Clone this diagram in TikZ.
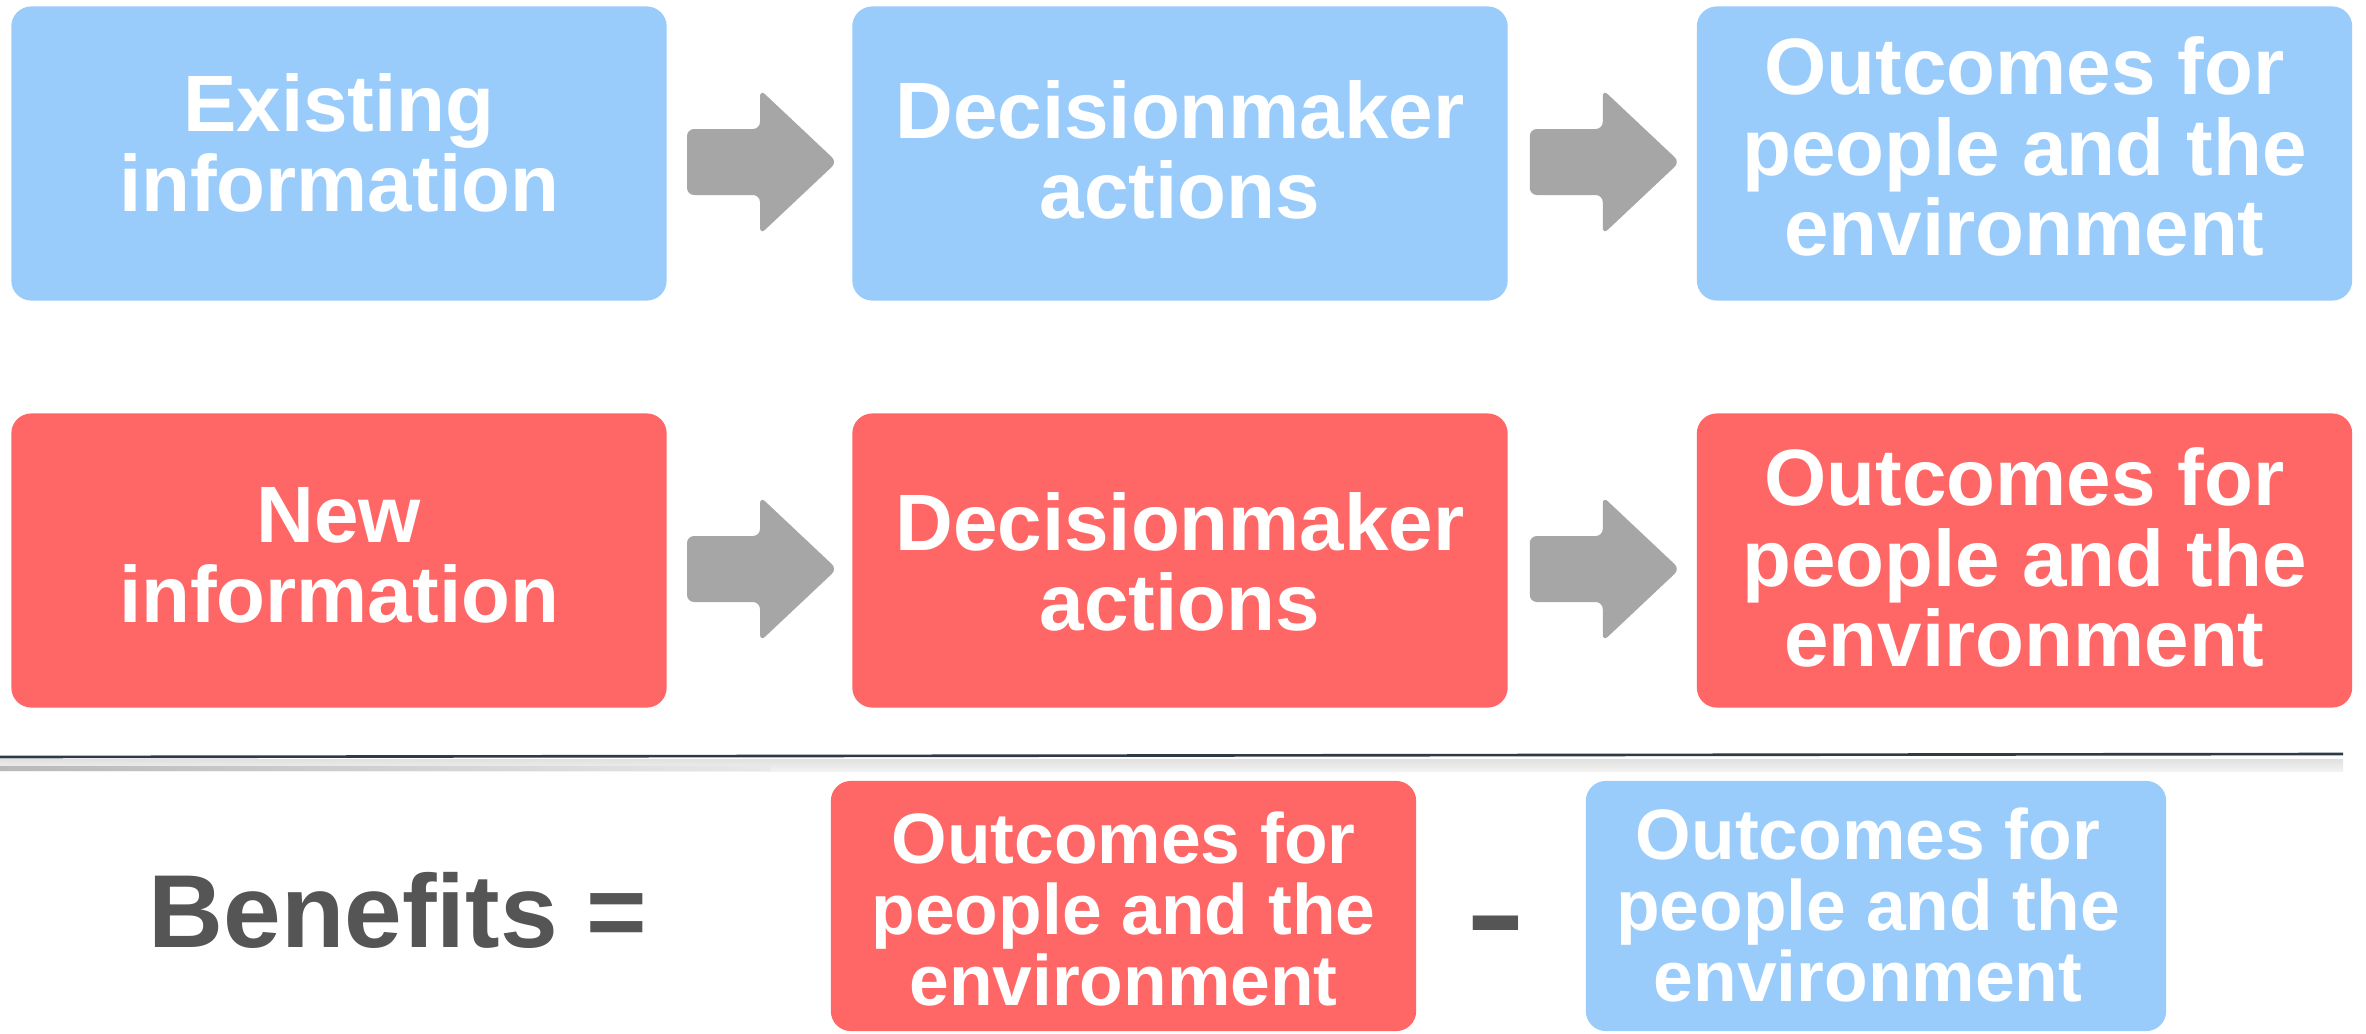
\documentclass[tikz,border=0pt]{standalone}
\usepackage{fontspec}
\setmainfont{Liberation Sans}
\usetikzlibrary{calc}

\definecolor{skyfill}{HTML}{99CCFA}
\definecolor{coralfill}{HTML}{FF6666}
\definecolor{arrowgray}{HTML}{A6A6A6}
\definecolor{inkgray}{HTML}{555555}
\definecolor{ruleink}{HTML}{2F3A44}

\tikzset{
  card/.style={rounded corners=0.2cm, minimum width=6.55cm, minimum height=2.94cm,
               inner sep=0pt, draw=none},
  skycard/.style={card, fill=skyfill},
  coralcard/.style={card, fill=coralfill},
  smallcard/.style={minimum width=5.85cm, minimum height=2.5cm},
  cardtext/.style={text=white, align=center, inner sep=0pt,
                   font=\bfseries\fontsize{22.75}{22.8}\selectfont},
  smalltext/.style={text=white, align=center, inner sep=0pt,
                    font=\bfseries\fontsize{20.3}{20.3}\selectfont},
  bigtext/.style={text=inkgray, inner sep=0pt},
  flowarrow/.pic={
    \fill[arrowgray, rounded corners=2pt]
      (-72.5,-33) -- (0.5,-33) -- (0.5,-72.5) -- (77.5,0) --
      (0.5,72.5) -- (0.5,33) -- (-72.5,33) -- cycle;
  }
}

\begin{document}
\begin{tikzpicture}[x=0.01cm, y=-0.01cm]
  \fill[white] (0,0) rectangle (2366,1033);
  \useasboundingbox (0,0) rectangle (2366,1033);

  % first row: existing information
  \node[skycard] (e1) at (339,153.5) {};
  \node[skycard] (e2) at (1180,153.5) {};
  \node[skycard] (e3) at (2024.5,153.5) {};
  \node[cardtext] (e1t) at ([yshift=0.11cm]e1.center) {Existing\\information};
  \node[cardtext] (e2t) at ([yshift=0.04cm]e2.center) {Decisionmaker\\actions};
  \node[cardtext] (e3t) at ([yshift=0.07cm]e3.center) {Outcomes for\\people and the\\environment};

  % second row: new information
  \node[coralcard] (n1) at (339,560.5) {};
  \node[coralcard] (n2) at (1180,560.5) {};
  \node[coralcard] (n3) at (2024.5,560.5) {};
  \node[cardtext] (n1t) at ([yshift=0.05cm]n1.center) {New\\information};
  \node[cardtext] (n2t) at ([yshift=-0.01cm]n2.center) {Decisionmaker\\actions};
  \node[cardtext] (n3t) at ([yshift=0.03cm]n3.center) {Outcomes for\\people and the\\environment};

  % block arrows between the cards
  \pic at ($(e1.east)!0.5!(e2.west)+(0,8.5)$) {flowarrow};
  \pic at ($(e2.east)!0.5!(e3.west)+(0,8.5)$) {flowarrow};
  \pic at ($(n1.east)!0.5!(n2.west)+(0,8.5)$) {flowarrow};
  \pic at ($(n2.east)!0.5!(n3.west)+(0,8.5)$) {flowarrow};

  % separating rule with its soft shadow
  \shade[top color=gray!24, bottom color=gray!10] (0,759) rectangle (2343,771);
  \shade[left color=gray!55, right color=gray!18] (0,766) rectangle (770,770);
  \draw[ruleink, line width=0.75pt] (0,757) -- (2343,754);

  % the difference
  \node[bigtext, anchor=base west, font=\bfseries\fontsize{29.5}{29.5}\selectfont]
    (ben) at (148,947) {Benefits =};
  \node[coralcard, smallcard] (rb) at (1123.5,906) {};
  \node[skycard, smallcard, minimum width=5.8cm] (bb) at (1876,906) {};
  \node[smalltext] (rbt) at ([yshift=-0.03cm]rb.center) {Outcomes for\\people and the\\environment};
  \node[smalltext] (bbt) at ([xshift=-0.08cm,yshift=0.01cm]bb.center) {Outcomes for\\people and the\\environment};
  \node[bigtext, anchor=base, font=\bfseries\fontsize{26}{26}\selectfont]
    (minus) at (1495.5,962) {\scalebox{1}[1.6]{–}};
\end{tikzpicture}
\end{document}
